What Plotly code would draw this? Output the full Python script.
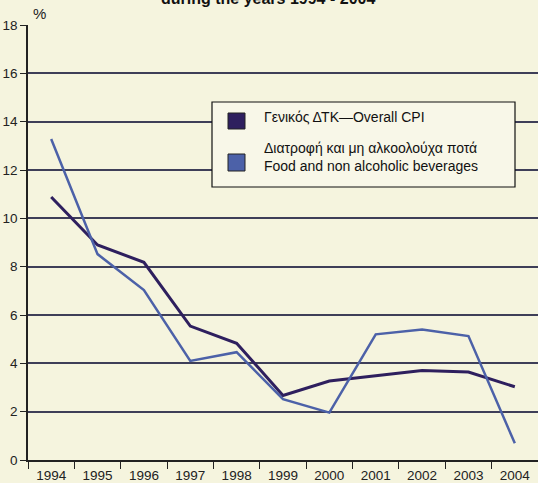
import plotly.graph_objects as go

years = ["1994", "1995", "1996", "1997", "1998", "1999", "2000", "2001", "2002", "2003", "2004"]
cpi = [10.88, 8.9, 8.18, 5.54, 4.83, 2.67, 3.27, 3.48, 3.7, 3.64, 3.03]
food = [13.28, 8.52, 7.03, 4.1, 4.46, 2.52, 1.96, 5.2, 5.4, 5.13, 0.69]
y_ticks = [0, 2, 4, 6, 8, 10, 12, 14, 16, 18]

name_cpi = "Γενικός ΔΤΚ—Overall CPI"
name_food = "Διατροφή και μη αλκοολούχα ποτά<br>Food and non alcoholic beverages"

C_CPI = "#2e1f5e"
C_FOOD = "#4c61a8"
BG = "#f5f4de"
GRID = "#3e3e58"
FONT = "Liberation Sans, Arial, sans-serif"

W, H = 538, 483
L, R, T, B = 28, 0, 25, 23
PW, PH = W - L - R, H - T - B

def px_x(x):
    return (x - L) / PW

def px_y(y):
    return (H - B - y) / PH

fig = go.Figure()
fig.add_trace(go.Scatter(x=years, y=cpi, mode="lines", name=name_cpi,
                         line=dict(color=C_CPI, width=3), showlegend=False))
fig.add_trace(go.Scatter(x=years, y=food, mode="lines", name=name_food,
                         line=dict(color=C_FOOD, width=2.5), showlegend=False))

shapes = [
    dict(type="rect", xref="paper", yref="paper",
         x0=px_x(212), x1=px_x(515), y0=px_y(187), y1=px_y(102),
         fillcolor="#f8f7e8", line=dict(color="#111111", width=1.2), layer="above"),
    dict(type="rect", xref="paper", yref="paper",
         x0=px_x(228), x1=px_x(245), y0=px_y(129), y1=px_y(113),
         fillcolor=C_CPI, line=dict(color="#222222", width=1), layer="above"),
    dict(type="rect", xref="paper", yref="paper",
         x0=px_x(228), x1=px_x(245), y0=px_y(171), y1=px_y(154),
         fillcolor=C_FOOD, line=dict(color="#222222", width=1), layer="above"),
]

annotations = [
    dict(text=name_cpi, xref="paper", yref="paper", x=px_x(262), y=px_y(117),
         xanchor="left", yanchor="middle", showarrow=False,
         font=dict(family=FONT, size=14, color="#111111")),
    dict(text=name_food, xref="paper", yref="paper", x=px_x(262), y=px_y(157),
         xanchor="left", yanchor="middle", showarrow=False, align="left",
         font=dict(family=FONT, size=14, color="#111111")),
    dict(text="%", xref="paper", yref="paper", x=px_x(39), y=1,
         xanchor="center", yanchor="bottom", yshift=1, showarrow=False,
         font=dict(family=FONT, size=15, color="#222222")),
    dict(text="<b>during the years 1994 - 2004</b>", xref="paper", yref="paper",
         x=px_x(268), y=1, xanchor="center", yanchor="bottom", yshift=16,
         showarrow=False, font=dict(family=FONT, size=16, color="#111111")),
]

fig.update_layout(
    width=W, height=H,
    margin=dict(l=L, r=R, t=T, b=B, pad=0),
    paper_bgcolor=BG, plot_bgcolor=BG,
    shapes=shapes, annotations=annotations,
    showlegend=False,
    font=dict(family=FONT, size=13, color="#222222"),
)
fig.update_xaxes(type="category", range=[-0.5, 10.5], tickson="boundaries",
                 ticks="outside", ticklen=7, tickcolor="#222222", tickwidth=1.2,
                 showgrid=False, showline=True, linecolor="#222222", linewidth=1.5,
                 tickfont=dict(family=FONT, size=13.5, color="#222222"), zeroline=False,
                 ticklabelstandoff=2)
fig.update_yaxes(range=[0, 18], tickvals=y_ticks, ticks="outside", ticklen=6,
                 tickcolor="#222222", tickwidth=1.2, showgrid=True, gridcolor=GRID,
                 gridwidth=1.5, showline=True, linecolor="#222222", linewidth=1.5,
                 zeroline=False, tickfont=dict(family=FONT, size=13.5, color="#222222"))

fig.write_html("out.html", config={"displayModeBar": False},
               post_script="document.body.style.margin='0';document.body.style.overflow='hidden';")
